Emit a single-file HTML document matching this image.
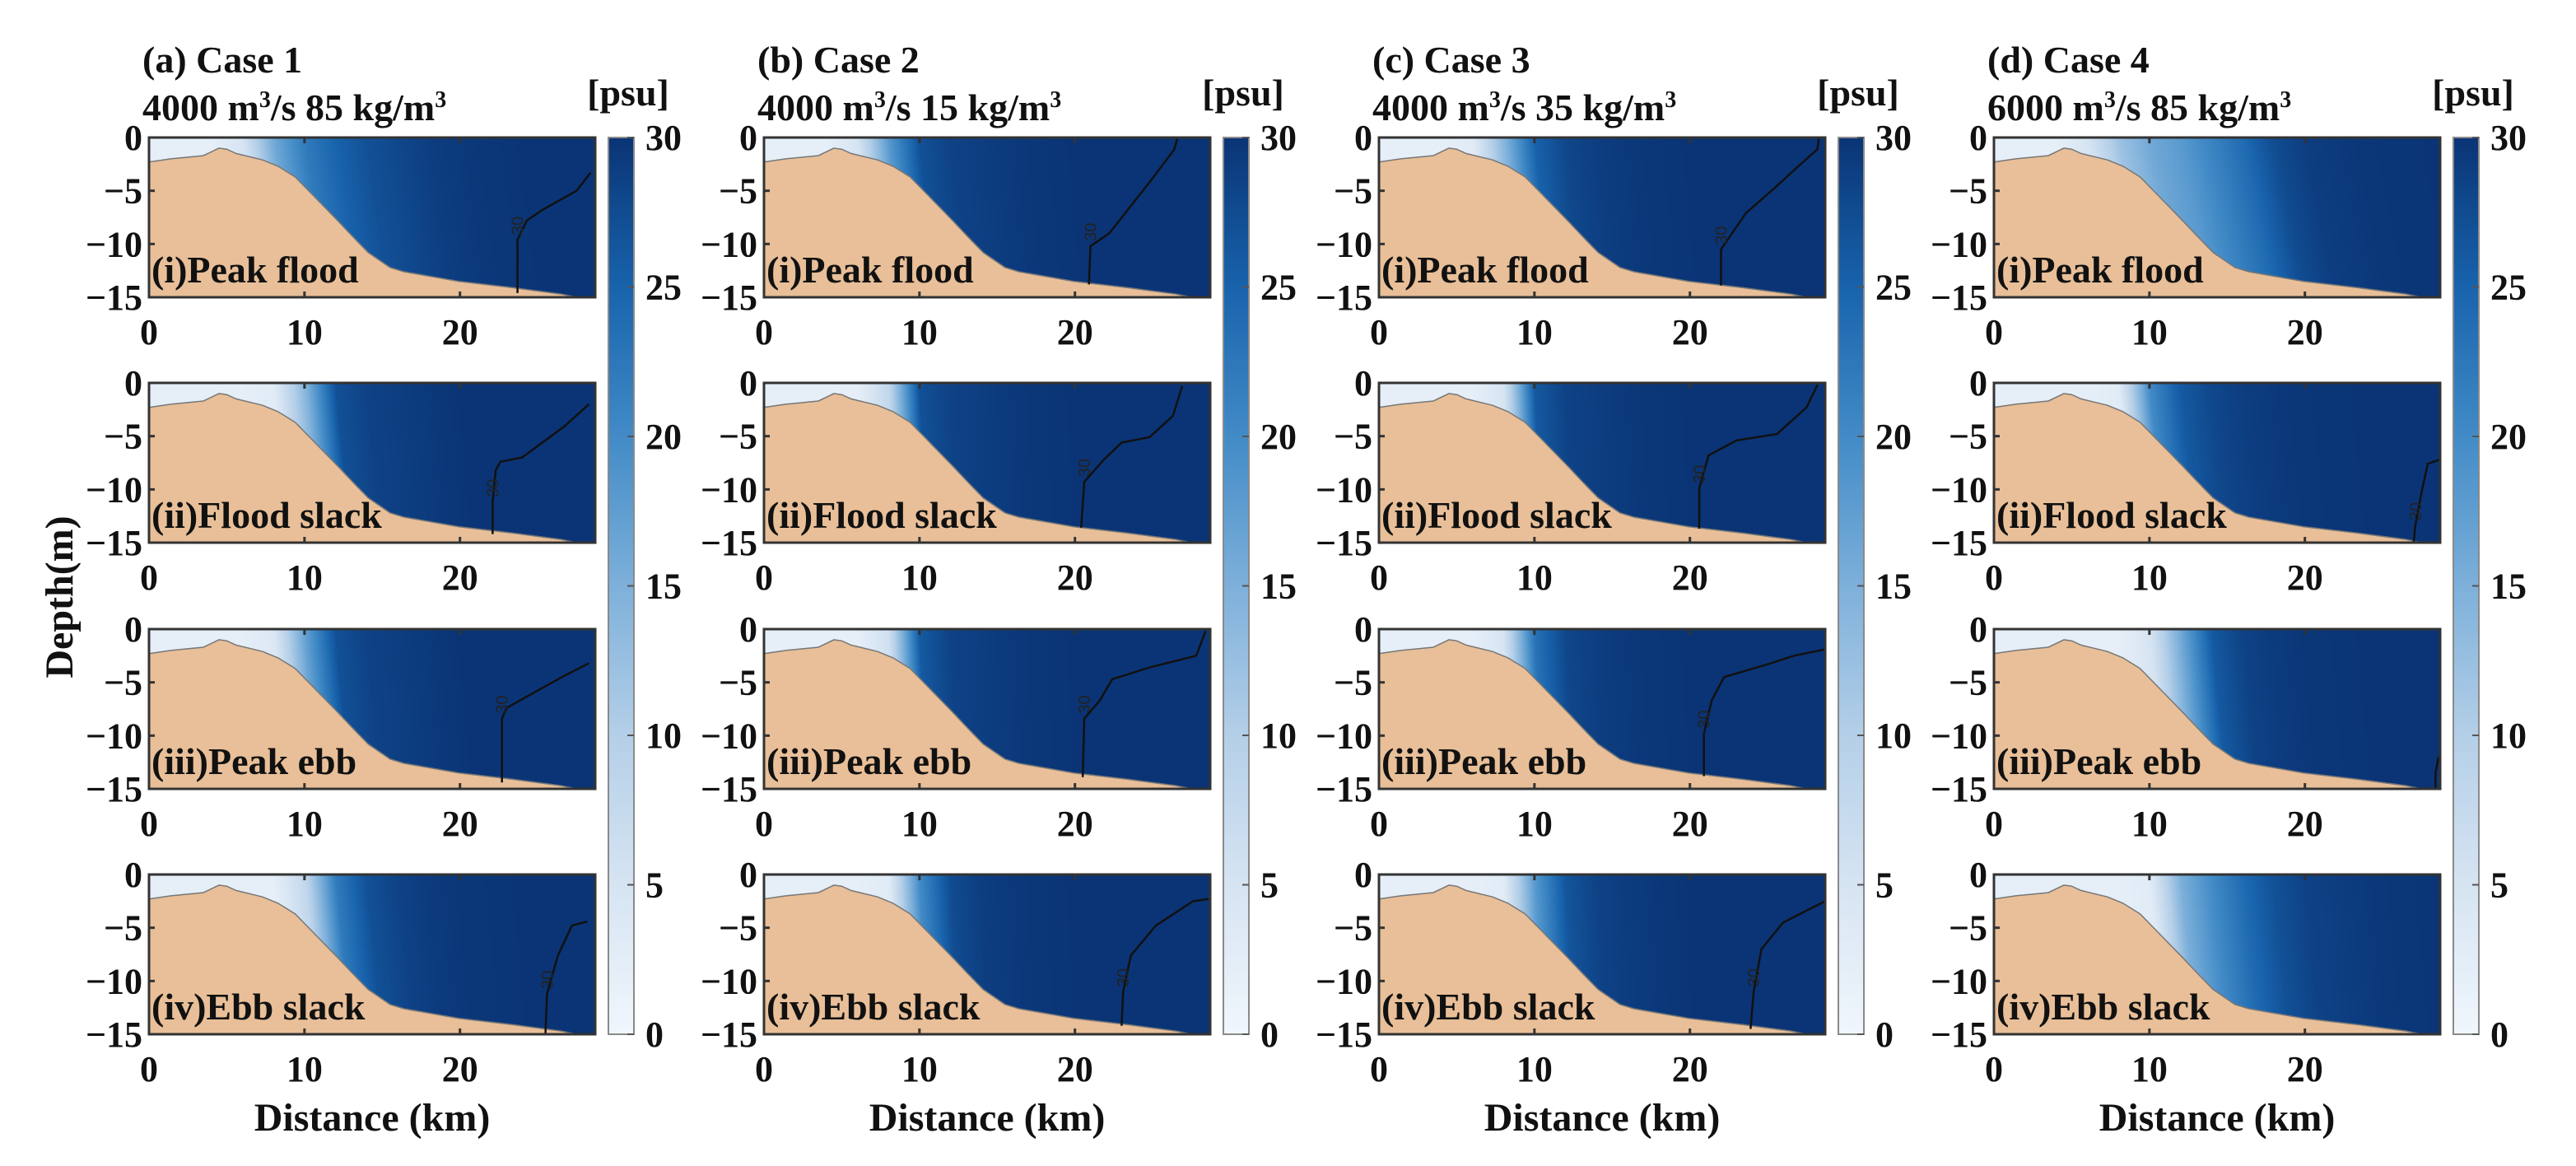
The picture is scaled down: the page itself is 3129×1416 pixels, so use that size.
<!DOCTYPE html>
<html><head><meta charset="utf-8">
<style>
html,body{margin:0;padding:0;background:#fff;}
#root{position:relative;width:3129px;height:1416px;overflow:hidden;background:#fff;font-family:"Liberation Serif","Times New Roman","DejaVu Serif",serif;}
canvas{position:absolute;}
svg{position:absolute;left:0;top:0;}
svg text{font-family:"Liberation Serif","Times New Roman","DejaVu Serif",serif;}
svg text.cl{font-family:"Liberation Sans",sans-serif;}
</style></head>
<body>
<div id="root">
<svg id="svg" width="3129" height="1416" font-weight="bold" fill="#111"></svg>
</div>
<script>
// ---- data ----
const caseTitles = ["(a) Case 1","(b) Case 2","(c) Case 3","(d) Case 4"];
const caseDischarge = ["4000","4000","4000","6000"];
const caseSediment = ["85","15","35","85"];
const phaseLabels = ["(i)Peak flood","(ii)Flood slack","(iii)Peak ebb","(iv)Ebb slack"];
const xTicks = [0,10,20];
const yTicks = [0,-5,-10,-15];
const cbTicks = [0,5,10,15,20,25,30];
const bathX = [0,1.4,3.5,4.5,5,5.6,7.3,8.3,9.4,10.8,12.2,13.1,14.1,15.5,16.4,19.9,23.4,26.5,27.5,28.7];
const bathZ = [-2.3,-2.0,-1.7,-1.0,-1.1,-1.5,-2.1,-2.7,-3.7,-5.8,-7.9,-9.3,-10.8,-12.2,-12.6,-13.5,-14.1,-14.7,-15,-15];
const distNodes = [0,4,6,8,10,12,14,16,18,20,24,28.7];
const salA1=[2,2,5,16,22,25,27,28,29,29.5,30,30];
const salA2=[2,2,2,3,14,27,28.5,29,29.5,30,30,30];
const salA3=[2,2,2,4,17,27,28.5,29,29.5,30,30,30];
const salA4=[2,2,2,2,8,22,27,28.5,29.3,29.7,30,30];
const salB1=[2,2,5,18,27,28.5,29,29.5,29.8,30,30,30];
const salB2=[2,2,2,8,27,28.5,29,29.5,29.8,30,30,30];
const salB3=[2,2,2,6,26,28.5,29,29.5,29.8,30,30,30];
const salB4=[2,2,2,3,20,27.5,29,29.5,29.8,30,30,30];
const salC1=[2,2,3,14,25,28,29,29.5,29.8,30,30,30];
const salC2=[2,2,2,5,26,28.5,29,29.5,29.8,30,30,30];
const salC3=[2,2,2,5,23,28,29,29.5,29.8,30,30,30];
const salC4=[2,2,2,3,18,26.5,28.5,29.2,29.6,30,30,30];
const salD1=[2,2,5,12,16,18,21,24,27.5,29,29.8,30];
const salD2=[2,2,2,3,20,26,28,29,29.5,29.8,30,30];
const salD3=[2,2,2,2,5,16,26,28.5,29.3,29.7,30,30];
const salD4=[2,2,2,2,3,15,20,24,27,28.5,29.5,30];
const salinity=[salA1,salA2,salA3,salA4,salB1,salB2,salB3,salB4,salC1,salC2,salC3,salC4,salD1,salD2,salD3,salD4];
const frontTilt=[1.5,1,1,1, 1,0.5,0.5,0.5, 1,0.5,0.5,0.5, 2,1,1,1];
const contourX=[
 [28.4,27.5,25.3,24.3,23.7,23.7],[28.3,26.7,24,22.6,22.3,22.1,22.1],[28.3,26.7,25.2,23,22.7,22.7],[28.2,27.2,26.3,25.6,25.5],
 [26.6,26.4,24.8,22.2,21,20.9],[26.9,26.3,24.8,23,21.8,20.6,20.4],[28.4,27.8,24.8,22.4,21.6,20.6,20.5],[28.6,27.6,25.2,23.6,23.1,23],
 [28.3,28.2,26.9,25.4,23.6,22,22],[28.2,27.5,25.6,23,21.2,20.6,20.6],[28.7,26.7,25,22.2,21.4,20.9,20.9],[28.7,26,24.6,24.1,23.9],
 [],[28.7,27.9,27.5,27.1,27],[28.6,28.4,28.4],[]];
const contourZ=[
 [-3.3,-5.0,-6.8,-7.8,-9.6,-14.6],[-2,-4.1,-7,-7.4,-8.2,-11.2,-14.2],[-3.2,-4.4,-5.6,-7.4,-8.4,-14.4],[-4.4,-4.8,-7.6,-11.2,-14.9],
 [0,-1.1,-4.2,-9,-10.2,-13.8],[-0.3,-3.1,-5.1,-5.6,-7.3,-9.3,-13.6],[-0.2,-2.5,-3.6,-4.7,-6.7,-8.4,-13.9],[-2.3,-2.5,-4.8,-7.6,-11,-14.2],
 [0,-1.1,-2.8,-4.8,-7.1,-10.5,-13.9],[-0.2,-2.3,-4.8,-5.4,-6.8,-9.9,-13.7],[-1.9,-2.5,-3.3,-4.5,-6.7,-9.8,-13.8],[-2.5,-4.5,-7,-11,-14.5],
 [],[-7.2,-7.6,-10.3,-13.4,-15],[-12,-13.5,-15],[]];
const cmapV=[0,5,10,15,20,25,30];
const cmapR=[240,214,180,125,66,24,10];
const cmapG=[246,228,207,176,139,99,52];
const cmapB=[252,242,232,218,199,172,117];

// ---- layout ----
const X0=[181,928,1675,2422], Y0=[167,465,764,1062], PW=542, PH=194, XMAX=28.7, ZMAX=15;
const CB_DX=558, CB_W=31, CB_TOP=167, CB_BOT=1256;
const xpx=(c,km)=>X0[c]+km/XMAX*PW;
const ypx=(r,z)=>Y0[r]+(-z)/ZMAX*PH;
const cbY=v=>CB_BOT-v/30*(CB_BOT-CB_TOP);
function interp(xs,ys,x){ if(x<=xs[0])return ys[0]; for(let i=1;i<xs.length;i++){ if(x<=xs[i]){const t=(x-xs[i-1])/(xs[i]-xs[i-1]);return ys[i-1]+t*(ys[i]-ys[i-1]);}} return ys[ys.length-1];}
function cmap(v){return [interp(cmapV,cmapR,v),interp(cmapV,cmapG,v),interp(cmapV,cmapB,v)];}

const NS="http://www.w3.org/2000/svg";
const svg=document.getElementById('svg');
const root=document.getElementById('root');
function mk(tag,attrs,parent){const e=document.createElementNS(NS,tag);for(const k in attrs)e.setAttribute(k,attrs[k]);(parent||svg).appendChild(e);return e;}

const defs=mk('defs',{});
const lg=mk('linearGradient',{id:'cbgrad',x1:0,y1:1,x2:0,y2:0},defs);
cmapV.forEach((v,i)=>{mk('stop',{offset:(v/30),'stop-color':`rgb(${cmapR[i]},${cmapG[i]},${cmapB[i]})`},lg);});

for(let c=0;c<4;c++){
  const t1=mk('text',{x:X0[c]-8,y:88,'font-size':46});
  t1.textContent=caseTitles[c];
  
  
  const t2=mk('text',{x:X0[c]-8,y:146,'font-size':46});
  t2.innerHTML=`${caseDischarge[c]} m<tspan dy="-16" font-size="28">3</tspan><tspan dy="16">/s ${caseSediment[c]} kg/m</tspan><tspan dy="-16" font-size="28">3</tspan>`;
  
  
  const pu=mk('text',{x:X0[c]+582,y:128,'font-size':46,'text-anchor':'middle'});
  pu.textContent='[psu]';
  
  
  const cb=mk('rect',{x:X0[c]+CB_DX,y:CB_TOP,width:CB_W,height:CB_BOT-CB_TOP,fill:'url(#cbgrad)',stroke:'#8a8a8a','stroke-width':2});
  
  
  cbTicks.forEach(v=>{
    mk('line',{x1:X0[c]+CB_DX+CB_W-8,x2:X0[c]+CB_DX+CB_W,y1:cbY(v),y2:cbY(v),stroke:'#555','stroke-width':2});
    const tl=mk('text',{x:X0[c]+CB_DX+45,y:cbY(v)+15,'font-size':44});
    tl.textContent=String(v);
    
    
  });
  const dl=mk('text',{x:X0[c]+PW/2,y:1373,'font-size':48,'text-anchor':'middle'});
  dl.textContent='Distance (km)';
  
  

  for(let r=0;r<4;r++){
    const p=c*4+r;
    const cv=document.createElement('canvas');
    cv.width=PW;cv.height=PH;
    cv.style.left=X0[c]+'px';cv.style.top=Y0[r]+'px';
    
    
    root.insertBefore(cv,svg);
    const ctx=cv.getContext('2d');
    const img=ctx.createImageData(PW,PH);
    for(let i=0;i<PW;i++){
      const km=(i+0.5)/PW*XMAX;
      const bed=interp(bathX,bathZ,km);
      for(let j=0;j<PH;j++){
        const z=-(j+0.5)/PH*ZMAX;
        let col;
        if(z<bed){col=[232,191,152];}
        else{const s=interp(distNodes,salinity[p],km-frontTilt[p]*(-z/ZMAX));col=cmap(s);}
        const k=(j*PW+i)*4;
        img.data[k]=col[0];img.data[k+1]=col[1];img.data[k+2]=col[2];img.data[k+3]=255;
      }
    }
    ctx.putImageData(img,0,0);
    const bl=mk('polyline',{points:bathX.map((x,i)=>`${xpx(c,x)},${ypx(r,bathZ[i])}`).join(' '),fill:'none',stroke:'#777','stroke-width':1.5});
    
    
    if(contourX[p].length){
      const cl=mk('polyline',{points:contourX[p].map((x,i)=>`${xpx(c,x)},${ypx(r,contourZ[p][i])}`).join(' '),fill:'none',stroke:'#111','stroke-width':2.5});
      
      
      const n=contourX[p].length;
      if(n>3){
        const lx=xpx(c,contourX[p][n-2]), ly=ypx(r,contourZ[p][n-2])-6;
        const lab=mk('text',{x:lx+7,y:ly,'font-size':20,'font-weight':'normal',class:'cl',fill:'#222',transform:`rotate(-90 ${lx+7} ${ly})`});
        lab.textContent='30';
        
        
      }
    }
    const fr=mk('rect',{x:X0[c],y:Y0[r],width:PW,height:PH,fill:'none',stroke:'#333','stroke-width':3});
    
    
    xTicks.forEach(v=>{
      const x=xpx(c,v);
      if(v>0){
        mk('line',{x1:x,x2:x,y1:Y0[r],y2:Y0[r]+7,stroke:'#333','stroke-width':3});
        mk('line',{x1:x,x2:x,y1:Y0[r]+PH,y2:Y0[r]+PH-7,stroke:'#333','stroke-width':3});
      }
      const tl=mk('text',{x:x,y:Y0[r]+PH+57,'font-size':44,'text-anchor':'middle'});
      tl.textContent=String(v);
      
      
    });
    yTicks.forEach(v=>{
      const y=ypx(r,v);
      if(v<0&&v>-15) mk('line',{x1:X0[c],x2:X0[c]+7,y1:y,y2:y,stroke:'#333','stroke-width':3});
      const tl=mk('text',{x:X0[c]-8,y:y+15,'font-size':44,'text-anchor':'end'});
      tl.textContent=v<0?'\u2212'+(-v):'0';
      
      
    });
    const pl=mk('text',{x:X0[c]+3,y:Y0[r]+PH-18,'font-size':46});
    pl.textContent=phaseLabels[r];
    
    
  }
}
const yl=mk('text',{x:0,y:0,'font-size':48,'text-anchor':'middle',transform:'translate(88 725) rotate(-90)'});
yl.textContent='Depth(m)';


</script>
</body></html>
